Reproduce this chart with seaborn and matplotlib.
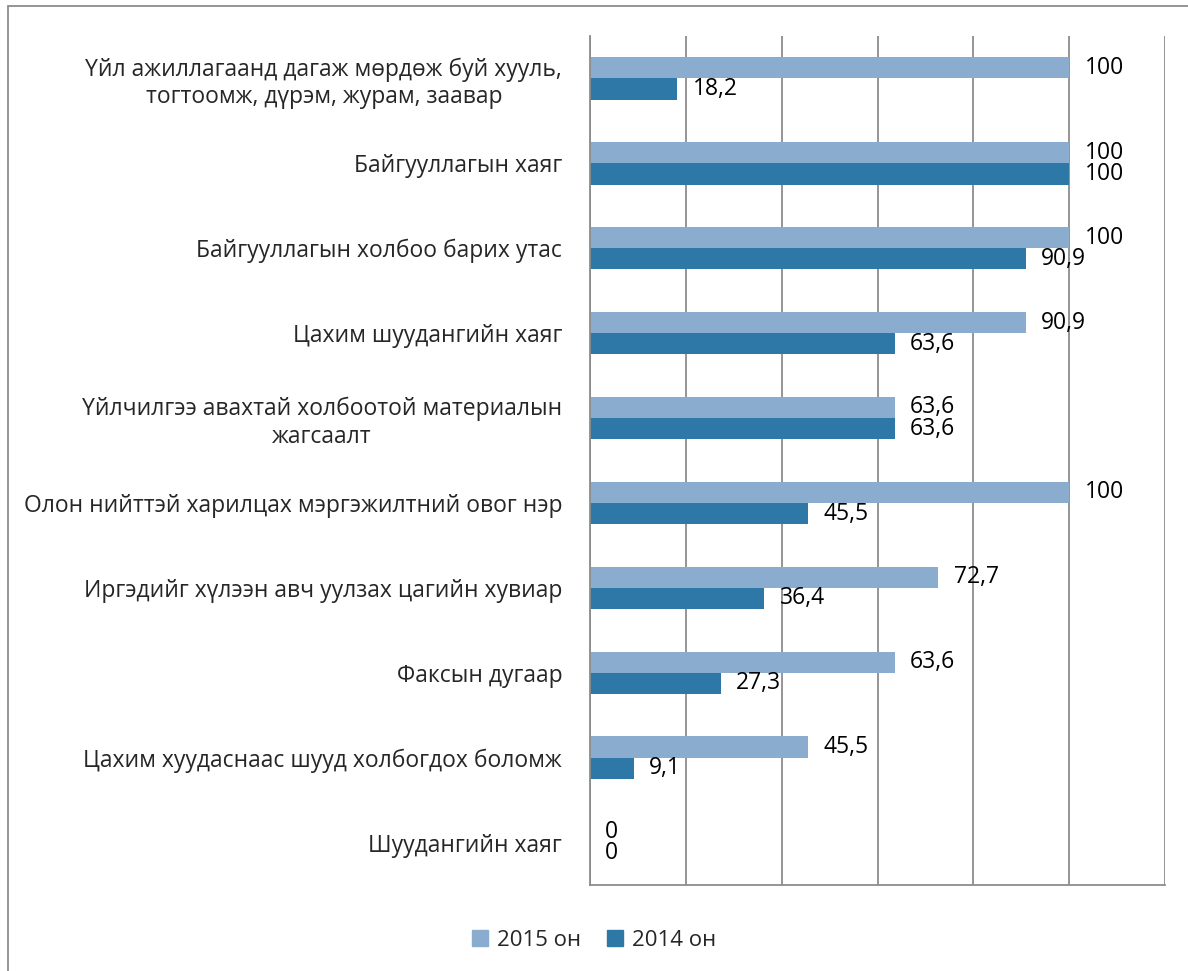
import pandas as pd
import seaborn as sns
import matplotlib.pyplot as plt
from matplotlib.patches import Rectangle

categories = [
    'Үйл ажиллагаанд дагаж мөрдөж буй хууль,\nтогтоомж, дүрэм, журам, заавар',
    'Байгууллагын хаяг',
    'Байгууллагын холбоо барих утас',
    'Цахим шуудангийн хаяг',
    'Үйлчилгээ авахтай холбоотой материалын\nжагсаалт',
    'Олон нийттэй харилцах мэргэжилтний овог нэр',
    'Иргэдийг хүлээн авч уулзах цагийн хувиар',
    'Факсын дугаар',
    'Цахим хуудаснаас шууд холбогдох боломж',
    'Шуудангийн хаяг',
]
values_2015 = [100, 100, 100, 90.9, 63.6, 100, 72.7, 63.6, 45.5, 0]
values_2014 = [18.2, 100, 90.9, 63.6, 63.6, 45.5, 36.4, 27.3, 9.1, 0]
series = ['2015 он', '2014 он']

data = pd.DataFrame({
    'category': categories * 2,
    'value': values_2015 + values_2014,
    'year': [series[0]] * len(categories) + [series[1]] * len(categories),
})

sns.set_style('white')
plt.rcParams['font.family'] = ['Open Sans', 'DejaVu Sans']

fig = plt.figure(figsize=(11.88, 9.71), dpi=100)
ax = fig.add_axes([590 / 1188, 1 - 885 / 971, (1165 - 590) / 1188, (885 - 36) / 971])

palette = {'2015 он': '#8AACCE', '2014 он': '#2E78A8'}
sns.barplot(data=data, y='category', x='value', hue='year', order=categories,
            hue_order=series, palette=palette, orient='h', width=0.5,
            saturation=1, linewidth=0, ax=ax, legend=False)

# value labels, decimal comma
for container in ax.containers:
    for bar in container:
        w = bar.get_width()
        txt = f'{w:g}'.replace('.', ',')
        ax.annotate(txt, (w, bar.get_y() + bar.get_height() / 2),
                    xytext=(11, 0), textcoords='offset points',
                    ha='left', va='center', fontsize=16.5, color='black')

ax.set_xlim(0, 120)
ax.set_xticks(range(0, 121, 20))
ax.set_xticklabels([])
ax.grid(axis='x', color='#8C8C8C', linewidth=1.3)
ax.set_axisbelow(True)
ax.tick_params(axis='both', length=0)
ax.tick_params(axis='y', pad=20, labelsize=16.5)
for lbl in ax.get_yticklabels():
    lbl.set_multialignment('center')
ax.set_xlabel('')
ax.set_ylabel('')
for side in ['top', 'right']:
    ax.spines[side].set_visible(False)
for side in ['left', 'bottom']:
    ax.spines[side].set_color('#8C8C8C')
    ax.spines[side].set_linewidth(1.3)

handles = [Rectangle((0, 0), 1, 1, color=palette[s]) for s in series]
fig.legend(handles, series, loc='center', bbox_to_anchor=(0.5, 1 - 940 / 971),
           ncol=2, frameon=False, fontsize=16, handlelength=0.7,
           handleheight=0.7, handletextpad=0.4, columnspacing=1.2)

# outer chart border
fig.add_artist(Rectangle((8 / 1188, -0.05), 1.1, 1 - 6 / 971 + 0.05,
                         transform=fig.transFigure, fill=False,
                         edgecolor='#8C8C8C', linewidth=1.3))

fig.savefig('out.png', dpi=100)
